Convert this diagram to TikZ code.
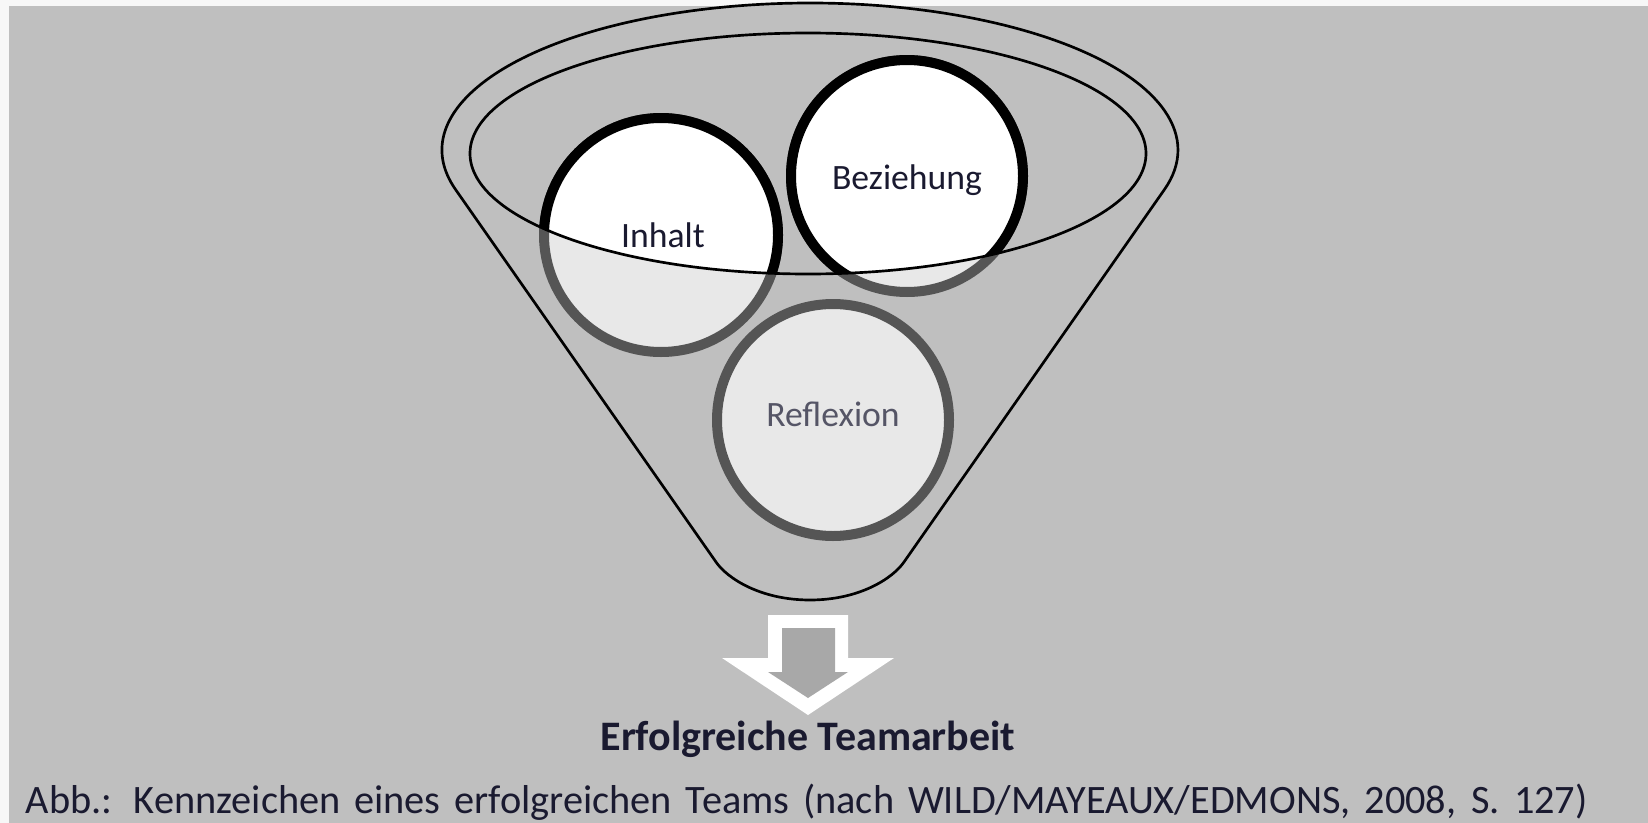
\documentclass[tikz,border=0pt]{standalone}
\usepackage{fontspec}
\setmainfont{Carlito}
\definecolor{bggray}{HTML}{BFBFBF}
\definecolor{marg}{HTML}{F7F7F7}
\definecolor{lightfill}{HTML}{E8E8E8}
\definecolor{darkring}{HTML}{555555}
\definecolor{arrowgray}{HTML}{A8A8A8}
\definecolor{refltext}{HTML}{555566}
\definecolor{labeltext}{HTML}{1A1A30}
\tikzset{
  funnelline/.style={draw=black, line width=0.8pt, line join=round},
  ringlight/.style={fill=lightfill, draw=darkring, line width=3pt},
  ringdark/.style={fill=white, draw=black, line width=3pt},
  lbl/.style={inner sep=0pt, font=\fontsize{10.7}{12}\selectfont, text=labeltext},
}
\begin{document}
\begin{tikzpicture}[x=0.3pt,y=-0.3pt]
\useasboundingbox (0,0) rectangle (1648,823);
\fill[marg] (0,0) rectangle (1648,823);
\fill[bggray] (9,6) rectangle (1648,823);
% funnel body
\path[funnelline, fill=bggray] (455.4,189.3) arc[start angle=164.5, end angle=375.5, x radius=368, y radius=147]
  -- (904,562) .. controls (893,578) and (860,600) .. (810,600)
  .. controls (760,600) and (727,578) .. (716,562) -- cycle;
% circles, lower (seen through the funnel)
\path[ringlight] (661,235) circle (117);
\path[ringlight] (907,176) circle (116);
\path[ringlight] (833,420) circle (116);
% circles, upper part inside the opening
\begin{scope}
  \clip (808,153.5) ellipse[x radius=338, y radius=120.5];
  \path[ringdark] (661,235) circle (117);
  \path[ringdark] (907,176) circle (116);
  \path[ringdark] (833,420) circle (116);
\end{scope}
% inner rim
\draw[funnelline] (808,153.5) ellipse[x radius=338, y radius=120.5];
% labels
\node[lbl] (inhalt) at (663,235) {Inhalt};
\node[lbl] (beziehung) at (907,180) {Beziehung};
\node[lbl, text=refltext] (reflexion) at (833,414) {Reflexion};
% block arrow
\fill[white] (768,615) -- (848,615) -- (848,658) -- (894,658) -- (808,715) -- (722,658) -- (768,658) -- cycle;
\fill[arrowgray] (782,628) -- (835,628) -- (835,672) -- (848,672) -- (808,698) -- (768,672) -- (782,672) -- cycle;
% texts
\node[anchor=base, inner sep=0pt, font=\fontsize{12.6}{14}\selectfont\bfseries, text=labeltext] (result) at (808,750) {Erfolgreiche Teamarbeit};
\node[anchor=base west, inner sep=0pt, font=\fontsize{12.1}{14}\selectfont, text=labeltext] (caption) at (25,813)
  {\makebox[468.6pt][s]{Abb.: Kennzeichen eines erfolgreichen Teams (nach WILD/MAYEAUX/EDMONS, 2008, S. 127)}};
\end{tikzpicture}
\end{document}
